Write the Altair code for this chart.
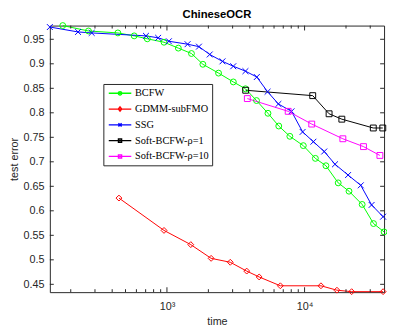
import altair as alt
import pandas as pd

series = ["BCFW", "GDMM-subFMO", "SSG", "Soft-BCFW-ρ=1", "Soft-BCFW-ρ=10"]
colors = ["#00ff00", "#ff0000", "#0000ff", "#000000", "#ff00ff"]

bcfw_t = [175, 269, 440, 578, 720, 952, 1210, 1507, 1824, 2371, 3036, 3718, 4476, 5420,
          6493, 7817, 9790, 11980, 14290, 17550, 21030, 26200, 31690, 37800]
bcfw_e = [0.978, 0.967, 0.963, 0.957, 0.951, 0.944, 0.932, 0.921, 0.899, 0.881, 0.863, 0.849,
          0.825, 0.799, 0.773, 0.752, 0.733, 0.707, 0.692, 0.657, 0.640, 0.613, 0.574, 0.557]

gdmm_t = [448, 952, 1490, 2094, 2885, 3798, 4677, 6668, 13150, 17180, 21980, 37200]
gdmm_e = [0.626, 0.560, 0.531, 0.503, 0.495, 0.477, 0.465, 0.447, 0.447, 0.438, 0.435, 0.435]

ssg_t = [141, 226, 284, 704, 863, 1033, 1412, 1708, 2046, 2532, 3033, 3718, 4497, 5385,
         6451, 8036, 9677, 11590, 13890, 16640, 20700, 25600, 30690, 37200]
ssg_e = [0.975, 0.965, 0.963, 0.957, 0.953, 0.946, 0.940, 0.935, 0.919, 0.905, 0.895, 0.885,
         0.873, 0.843, 0.818, 0.803, 0.761, 0.741, 0.721, 0.695, 0.673, 0.652, 0.612, 0.588]

soft1_t = [3733, 11460, 15070, 18650, 31570, 37000]
soft1_e = [0.846, 0.835, 0.798, 0.787, 0.769, 0.769]

soft10_t = [3838, 7603, 11270, 18970, 26800, 35260]
soft10_e = [0.829, 0.803, 0.777, 0.747, 0.731, 0.713]

x_major = [1000, 10000]
x_minor = [200, 300, 400, 500, 600, 700, 800, 900, 2000, 3000, 4000, 5000, 6000, 7000,
           8000, 9000, 20000, 30000]
y_ticks = [0.45, 0.5, 0.55, 0.6, 0.65, 0.7, 0.75, 0.8, 0.85, 0.9, 0.95]

plot_shapes = ["circle", "diamond", "M-1,-1L1,1M-1,1L1,-1", "square", "square"]
legend_shapes = [
    "M-2,0L2,0M-0.3,0A0.3,0.3 0 1,0 0.3,0A0.3,0.3 0 1,0 -0.3,0",
    "M-2,0L2,0M0,-0.38L0.3,0L0,0.38L-0.3,0Z",
    "M-2,0L2,0M-0.28,-0.28L0.28,0.28M-0.28,0.28L0.28,-0.28",
    "M-2,0L2,0M-0.28,-0.28L0.28,-0.28L0.28,0.28L-0.28,0.28Z",
    "M-2,0L2,0M-0.28,-0.28L0.28,-0.28L0.28,0.28L-0.28,0.28Z",
]

W, H = 341, 272
AX = "#262626"
FONT = "Liberation Sans"

rows = []
for name, ts, es in zip(series, [bcfw_t, gdmm_t, ssg_t, soft1_t, soft10_t],
                        [bcfw_e, gdmm_e, ssg_e, soft1_e, soft10_e]):
    for i, (t, e) in enumerate(zip(ts, es)):
        rows.append({"series": name, "time": t, "err": e, "idx": i})
df = pd.DataFrame(rows)

xs = alt.Scale(type="log", domain=[141, 37800], nice=False)
ys = alt.Scale(domain=[0.434, 0.978], nice=False, zero=False)

x_axis = alt.Axis(values=x_major, labelExpr="datum.value == 1000 ? '10³' : '10⁴'",
                  ticks=False, tickSize=0, domain=False, grid=False, labelOverlap=False,
                  labelFont=FONT, labelFontSize=11, labelColor=AX, labelPadding=9,
                  title="time", titleFont=FONT, titleFontSize=11, titleFontWeight="normal",
                  titleColor=AX, titlePadding=4)
y_axis = alt.Axis(values=y_ticks, format=".2~f", tickCount=11, ticks=False, tickSize=0,
                  domain=False, grid=False, labelOverlap=False, labelFont=FONT,
                  labelFontSize=11, labelColor=AX, labelPadding=6,
                  title="test error", titleFont=FONT, titleFontSize=11,
                  titleFontWeight="normal", titleColor=AX, titlePadding=4)

X = alt.X("time:Q", scale=xs, axis=x_axis)
Y = alt.Y("err:Q", scale=ys, axis=y_axis)

base = alt.Chart(df)
color_plot = alt.Color("series:N", scale=alt.Scale(domain=series, range=colors), legend=None)

lines = base.mark_line(strokeWidth=1).encode(x=X, y=Y, color=color_plot, order="idx:Q")
points = base.mark_point(filled=False, size=36, strokeWidth=1, opacity=1).encode(
    x=X, y=Y, color=color_plot,
    shape=alt.Shape("series:N", scale=alt.Scale(domain=series, range=plot_shapes), legend=None),
)

xmaj = alt.Chart(pd.DataFrame({"time": x_major}))
xmin = alt.Chart(pd.DataFrame({"time": x_minor}))
ytk = alt.Chart(pd.DataFrame({"err": y_ticks}))
rule = dict(color=AX, strokeWidth=1)

t1 = xmaj.mark_rule(**rule).encode(x=X, y=alt.value(H), y2=alt.value(H - 5))
t2 = xmaj.mark_rule(**rule).encode(x=X, y=alt.value(0), y2=alt.value(5))
t3 = xmin.mark_rule(**rule).encode(x=X, y=alt.value(H), y2=alt.value(H - 3))
t4 = xmin.mark_rule(**rule).encode(x=X, y=alt.value(0), y2=alt.value(3))
t5 = ytk.mark_rule(**rule).encode(y=Y, x=alt.value(0), x2=alt.value(4))
t6 = ytk.mark_rule(**rule).encode(y=Y, x=alt.value(W), x2=alt.value(W - 4))

leg_params = alt.Legend(title=None, orient="none", legendX=54.6, legendY=59.6, columns=1,
                        padding=3, symbolOffset=7.5, labelOffset=8.75, rowPadding=4.1,
                        symbolSize=132, symbolStrokeWidth=1.4, labelFont="Liberation Serif",
                        labelFontSize=10.5, labelFontWeight="normal", labelColor="black",
                        strokeColor=AX, fillColor="white", cornerRadius=0, offset=0,
                        labelLimit=300)

leg = base.transform_filter("false").mark_point(filled=False, strokeWidth=1, opacity=1).encode(
    color=alt.Color("series:N", scale=alt.Scale(domain=series, range=colors), legend=leg_params),
    shape=alt.Shape("series:N", scale=alt.Scale(domain=series, range=legend_shapes), legend=leg_params),
)

chart = alt.layer(lines, points, t1, t2, t3, t4, t5, t6, leg).resolve_scale(
    color="independent", shape="independent"
).properties(
    width=W, height=H,
    title=alt.TitleParams("ChineseOCR", font=FONT, fontSize=11.5, fontWeight="bold",
                          color="black", offset=6, dy=6),
    padding={"left": 42.7, "top": 14.7, "right": 3, "bottom": 32},
    autosize=alt.AutoSizeParams(type="none"),
).configure_view(stroke=AX, strokeWidth=1)

chart.save("out.html", embed_options={"renderer": "svg", "actions": False})
